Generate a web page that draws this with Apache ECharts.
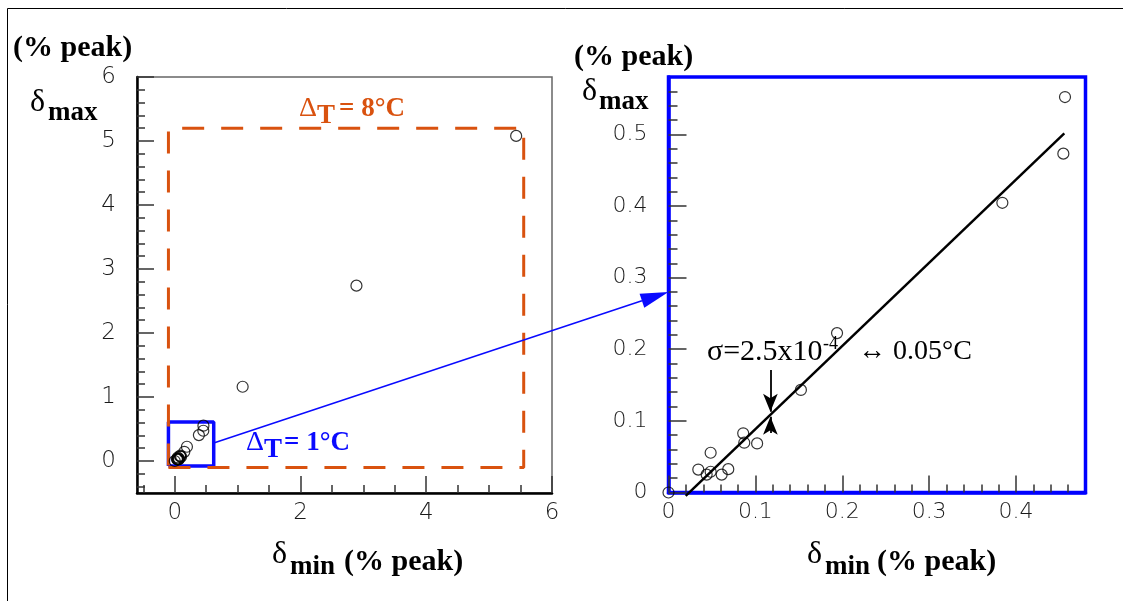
<!DOCTYPE html>
<html>
<head>
<meta charset="utf-8">
<script src="https://cdn.jsdelivr.net/npm/echarts@6/dist/echarts.min.js"></script>
<style>
  html, body { margin: 0; padding: 0; background: #fff; }
  #chart { width: 1123px; height: 601px; }
</style>
</head>
<body>
<div id="chart"></div>
<script>
// points seen in both plots (delta_min, delta_max in % peak)
var smallMin = [0.0, 0.0343, 0.0439, 0.0485, 0.0485, 0.0612, 0.0688, 0.086, 0.0872, 0.102, 0.1524, 0.194, 0.3843, 0.4545, 0.4564];
var smallMax = [0.0, 0.032, 0.025, 0.029, 0.0555, 0.025, 0.0326, 0.0826, 0.0695, 0.0685, 0.1432, 0.2225, 0.4044, 0.473, 0.552];
// points only in the full range plot
var bigMin = [1.08, 2.89, 5.43];
var bigMax = [1.16, 2.74, 5.08];
// linear fit ends (zoomed plot)
var fitMin = [0.0198, 0.4556];
var fitMax = [-0.0047, 0.5014];
// Delta_T boxes in the full range plot
var box8X = [-0.1, 5.55];
var box8Y = [-0.1, 5.2];
var box1X = [-0.1, 0.62];
var box1Y = [-0.08, 0.61];
// sigma marker: x, top of shaft, upper tip, lower tip, bottom of shaft
var sigmaX = 0.1173;
var sigmaY = [0.171, 0.1128, 0.1058, 0.083];
// link arrow height
var linkY = 0.28;

// tick labels
var leftXTicks = [0, 2, 4, 6];
var leftYTicks = [0, 1, 2, 3, 4, 5, 6];
var rightXTicks = [0, 0.1, 0.2, 0.3, 0.4];
var rightYTicks = [0, 0.1, 0.2, 0.3, 0.4, 0.5];

function minors(from, to, step, majors) {
  var out = [];
  var n = Math.round((to - from) / step);
  for (var i = 0; i <= n; i++) {
    var v = Math.round((from + i * step) * 1000) / 1000;
    if (majors.indexOf(v) < 0) out.push(v);
  }
  return out;
}
var leftXMinor = minors(-0.5, 5.5, 0.5, leftXTicks);
var leftYMinor = minors(-0.4, 5.8, 0.2, leftYTicks);
var rightXMinor = minors(0.02, 0.46, 0.02, rightXTicks);
var rightYMinor = minors(0.02, 0.56, 0.02, rightYTicks);

function pairs(xs, ys) {
  return xs.map(function (x, i) { return [x, ys[i]]; });
}
function boxPath(xs, ys) {
  return [[xs[0], ys[0]], [xs[1], ys[0]], [xs[1], ys[1]], [xs[0], ys[1]], [xs[0], ys[0]]];
}

var labelFont = { fontFamily: 'DejaVu Sans', fontWeight: 200, color: '#1a1a1a' };

function axis(dim, grid, min, max, ticks, len, labels, lineColor, fs) {
  var a = {
    type: 'value', gridIndex: grid, min: min, max: max,
    position: dim === 'x' ? 'bottom' : 'left',
    splitLine: { show: false },
    axisLine: { show: !!labels, onZero: false, lineStyle: { color: lineColor, width: lineColor === '#000' ? 2.5 : 3.5 } },
    axisTick: { inside: true, length: len, customValues: ticks, lineStyle: { color: '#333', width: 1.5 } },
    axisLabel: { show: !!labels }
  };
  if (labels) {
    a.axisLabel = Object.assign({ customValues: labels, fontSize: fs, margin: dim === 'x' ? 9 : 21 }, labelFont);
  }
  return a;
}

var chart = echarts.init(document.getElementById('chart'));

var option = {
  animation: false,
  backgroundColor: '#fff',
  grid: [
    { left: 137, top: 77, width: 415, height: 416, show: true, borderColor: '#666', borderWidth: 1.5 },
    { left: 668.5, top: 77, width: 417, height: 415.5, show: true, borderColor: '#0000ff', borderWidth: 3.5 }
  ],
  xAxis: [
    axis('x', 0, -0.6, 6, leftXTicks, 17, leftXTicks, '#000', 23),
    axis('x', 0, -0.6, 6, leftXMinor, 8, null, '#000'),
    axis('x', 1, 0, 0.48, rightXTicks, 17, rightXTicks, '#0000ff', 22),
    axis('x', 1, 0, 0.48, rightXMinor, 8, null, '#0000ff')
  ],
  yAxis: [
    axis('y', 0, -0.5, 6, leftYTicks, 17, leftYTicks, '#000', 23),
    axis('y', 0, -0.5, 6, leftYMinor, 8, null, '#000'),
    axis('y', 1, 0, 0.58, rightYTicks, 18, rightYTicks, '#0000ff', 22),
    axis('y', 1, 0, 0.58, rightYMinor, 9, null, '#0000ff')
  ],
  series: [
    {
      type: 'line', xAxisIndex: 0, yAxisIndex: 0, data: boxPath(box1X, box1Y),
      symbol: 'none', silent: true, z: 3,
      lineStyle: { color: '#0a0aff', width: 3.5 }
    },
    {
      type: 'line', xAxisIndex: 0, yAxisIndex: 0, data: boxPath(box8X, box8Y),
      symbol: 'none', silent: true, z: 4,
      lineStyle: { color: '#d9520f', width: 3, type: [22, 17] }
    },
    {
      type: 'scatter', xAxisIndex: 0, yAxisIndex: 0, z: 5,
      data: pairs(smallMin, smallMax).concat(pairs(bigMin, bigMax)),
      symbol: 'circle', symbolSize: 11,
      itemStyle: { color: 'rgba(0,0,0,0)', borderColor: '#000', borderWidth: 1.2 }
    },
    {
      type: 'scatter', xAxisIndex: 2, yAxisIndex: 2, z: 5,
      data: pairs(smallMin, smallMax),
      symbol: 'circle', symbolSize: 11,
      itemStyle: { color: 'rgba(0,0,0,0)', borderColor: '#000', borderWidth: 1.2 }
    },
    {
      type: 'line', xAxisIndex: 2, yAxisIndex: 2, data: pairs(fitMin, fitMax),
      symbol: 'none', clip: false, silent: true, z: 4,
      lineStyle: { color: '#000', width: 2.5 },
      markLine: {
        silent: true, symbol: ['none', 'arrow'], symbolSize: [11, 18],
        label: { show: false },
        lineStyle: { color: '#000', width: 1.8, type: 'solid' },
        data: [
          [{ coord: [sigmaX, sigmaY[0]] }, { coord: [sigmaX, sigmaY[1]] }],
          [{ coord: [sigmaX, sigmaY[3]] }, { coord: [sigmaX, sigmaY[2]] }]
        ]
      }
    }
  ]
};
chart.setOption(option);

function txt(x, y, text, font, fill) {
  return {
    type: 'text', x: x, y: y, z: 100,
    style: { text: text, font: font, fill: fill || '#000', align: 'left', verticalAlign: 'middle' }
  };
}

var serif = '"Liberation Serif", "Times New Roman", serif';
var bold30 = 'bold 30px ' + serif;
var bold27 = 'bold 27px ' + serif;
var reg32 = '32px ' + serif;
var orange = '#d9520f';
var blue = '#0a0aff';

// link arrow from the small box to the zoomed frame
var p1 = chart.convertToPixel({ xAxisIndex: 0, yAxisIndex: 0 }, [box1X[1], linkY]);
var p2 = chart.convertToPixel({ xAxisIndex: 2, yAxisIndex: 2 }, [0, linkY]);
var dx = p2[0] - p1[0], dy = p2[1] - p1[1];
var L = Math.sqrt(dx * dx + dy * dy);
var ux = dx / L, uy = dy / L;
var headLen = 28, headW = 7.5;
var base = [p2[0] - ux * headLen, p2[1] - uy * headLen];

var graphics = [
  { type: 'line', z: 90, shape: { x1: 7.5, y1: 8.5, x2: 1123, y2: 8.5 }, style: { stroke: '#000', lineWidth: 1 } },
  { type: 'line', z: 90, shape: { x1: 7.5, y1: 8.5, x2: 7.5, y2: 601 }, style: { stroke: '#000', lineWidth: 1 } },
  { type: 'line', z: 90, shape: { x1: p1[0], y1: p1[1], x2: base[0], y2: base[1] }, style: { stroke: blue, lineWidth: 1.5 } },
  {
    type: 'polygon', z: 90,
    shape: { points: [p2, [base[0] - uy * headW, base[1] + ux * headW], [base[0] + uy * headW, base[1] - ux * headW]] },
    style: { fill: blue }
  },

  // left plot titles
  txt(13, 48, '(% peak)', bold30),
  txt(30, 103, '\u03b4', reg32),
  txt(48, 113, 'max', bold27),
  txt(272, 555, '\u03b4', reg32),
  txt(290, 567, 'min', bold27),
  txt(344, 562, '(% peak)', bold30),

  // right plot titles
  txt(574, 57, '(% peak)', bold30),
  txt(582, 92, '\u03b4', reg32),
  txt(599, 102, 'max', bold27),
  txt(807, 555, '\u03b4', reg32),
  txt(825, 567, 'min', bold27),
  txt(877, 562, '(% peak)', bold30),

  // Delta_T labels
  txt(299, 109, '\u0394', '28px ' + serif, orange),
  txt(317, 116, 'T', bold27, orange),
  txt(339, 109, '= 8\u00b0C', bold27, orange),
  txt(246, 443, '\u0394', '28px ' + serif, blue),
  txt(264, 450, 'T', bold27, blue),
  txt(284, 443, '= 1\u00b0C', bold27, blue),

  // sigma annotation
  txt(707, 352, '\u03c3=2.5x10', '30px ' + serif),
  txt(823, 344, '-4', '18px ' + serif),
  txt(858, 352, '\u2194 0.05\u00b0C', '28px ' + serif)
];
chart.setOption({ graphic: graphics });

window.addEventListener('resize', function () { chart.resize(); });
</script>
</body>
</html>
